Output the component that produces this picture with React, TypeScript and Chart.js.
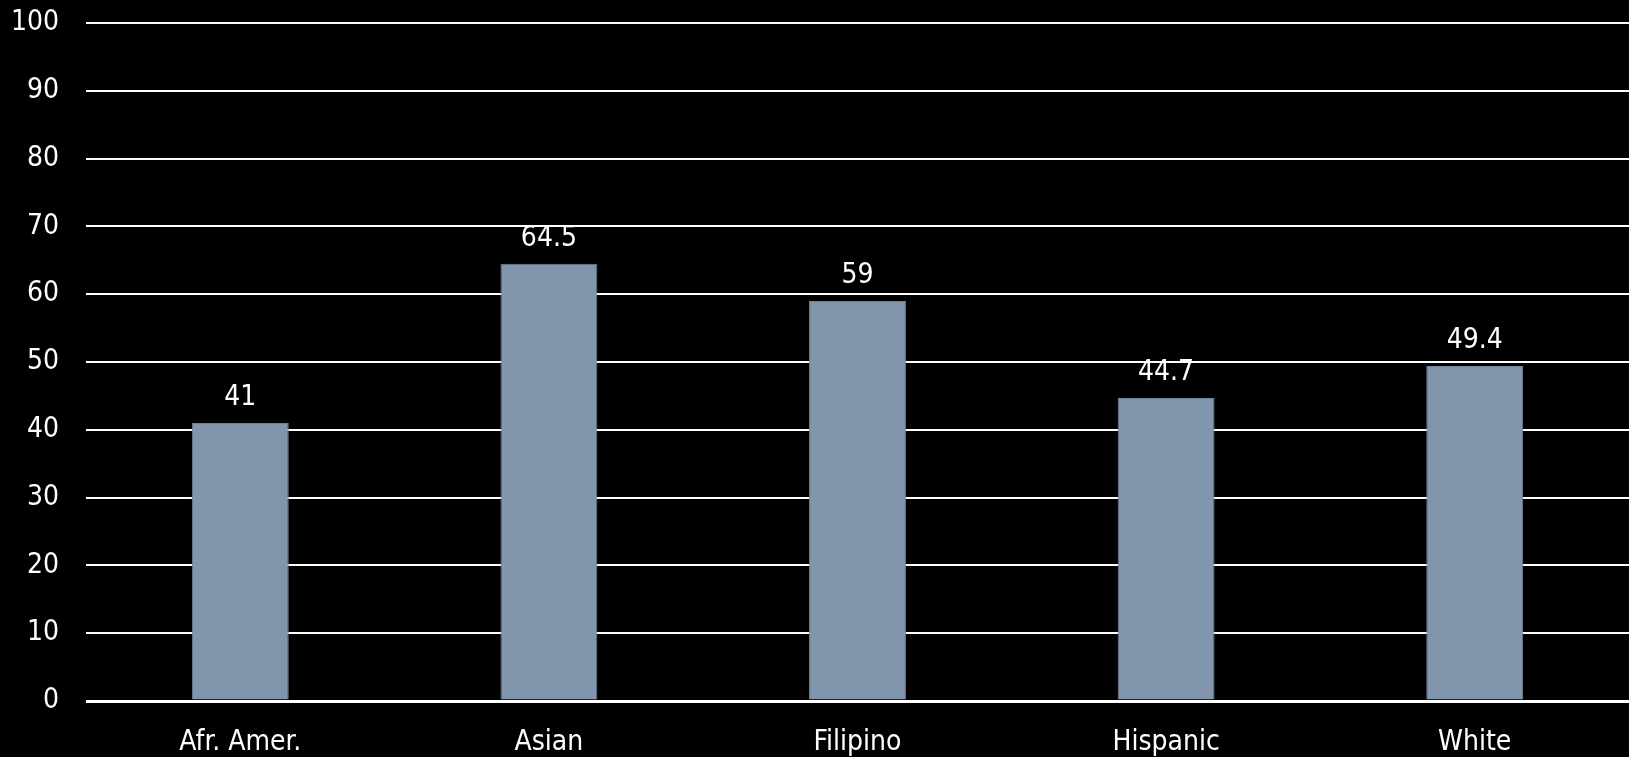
import React, { useEffect, useRef } from "react";
import { Chart, registerables } from "chart.js";

Chart.register(...registerables);

const categories = ["Afr. Amer.", "Asian", "Filipino", "Hispanic", "White"];
const values = [41, 64.5, 59, 44.7, 49.4];
const yMin = 0;
const yMax = 100;
const yStep = 10;

const FONT = "'DejaVu Sans Condensed', 'Liberation Sans Narrow', 'Liberation Sans', sans-serif";
const FONT_SIZE = 28;

const valueLabels = {
  id: "valueLabels",
  afterDatasetsDraw(chart: any) {
    const ctx = chart.ctx;
    const meta = chart.getDatasetMeta(0);
    ctx.save();
    ctx.fillStyle = "#ffffff";
    ctx.font = `${FONT_SIZE}px ${FONT}`;
    ctx.textAlign = "center";
    ctx.textBaseline = "alphabetic";
    meta.data.forEach((bar: any, i: number) => {
      ctx.fillText(String(values[i]), bar.x, bar.y - 18);
    });
    ctx.restore();
  },
};

export default function App() {
  const ref = useRef<HTMLCanvasElement | null>(null);
  useEffect(() => {
    document.body.style.margin = "0";
    const chart = new Chart(ref.current as HTMLCanvasElement, {
      type: "bar",
      data: {
        labels: categories,
        datasets: [
          {
            data: values,
            backgroundColor: "#8196ac",
            borderColor: "#6f8398",
            borderWidth: 1,
            barPercentage: 0.314,
            categoryPercentage: 1,
          },
        ],
      },
      options: {
        responsive: false,
        animation: false,
        maintainAspectRatio: false,
        layout: { padding: { top: 23, right: 0, left: 0, bottom: 0 } },
        plugins: { legend: { display: false }, tooltip: { enabled: false } },
        scales: {
          x: {
            grid: { display: false, drawTicks: false },
            border: { display: false },
            ticks: {
              color: "#ffffff",
              font: { family: FONT, size: FONT_SIZE },
              padding: 25,
              maxRotation: 0,
            },
            afterFit(scale: any) {
              scale.height = 56;
              scale.paddingLeft = 0;
              scale.paddingRight = 0;
            },
          },
          y: {
            min: yMin,
            max: yMax,
            grid: {
              color: "#ffffff",
              lineWidth: (c: any) => (c.tick && c.tick.value === 0 ? 3 : 2),
              drawTicks: false,
            },
            border: { display: false },
            ticks: {
              stepSize: yStep,
              color: "#ffffff",
              font: { family: FONT, size: FONT_SIZE },
              padding: 27,
            },
            afterFit(scale: any) {
              scale.width = 86;
              scale.paddingTop = 0;
              scale.paddingBottom = 0;
            },
          },
        },
      },
      plugins: [valueLabels],
    });
    return () => chart.destroy();
  }, []);
  return (
    <div style={{ position: "fixed", left: 0, top: 0, width: 1629, height: 757, background: "#000" }}>
      <canvas ref={ref} width={1629} height={757} style={{ display: "block" }} />
    </div>
  );
}
